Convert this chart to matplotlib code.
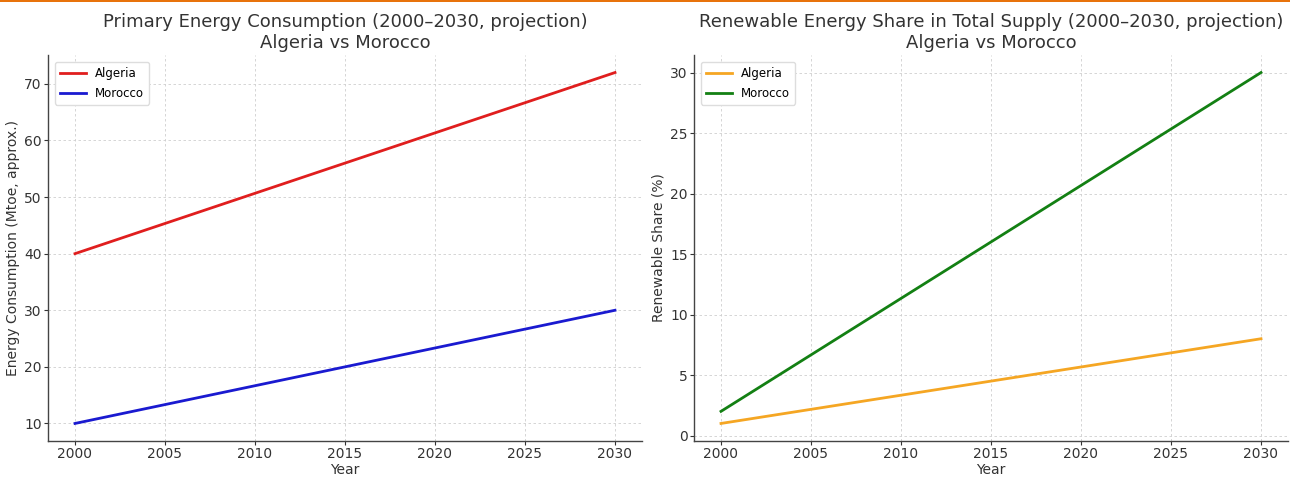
import matplotlib.pyplot as plt
from matplotlib.patches import Rectangle

# data
years = [2000, 2030]
algeria_energy = [40, 72]
morocco_energy = [10, 30]
algeria_renew = [1, 8]
morocco_renew = [2, 30]

plt.rcParams['font.family'] = 'DejaVu Sans'
text_col = '#333333'

fig = plt.figure(figsize=(12.9, 4.79), dpi=100)
W, H = 1290, 479

def add_axes_px(x0, y0, x1, y1):
    return fig.add_axes([x0 / W, 1 - y1 / H, (x1 - x0) / W, (y1 - y0) / H])

ax1 = add_axes_px(48, 55, 642, 441)
ax2 = add_axes_px(694, 55, 1288, 441)

def style(ax):
    ax.grid(True, linestyle=(0, (3, 3)), color='#cfcfcf', linewidth=0.6)
    ax.set_axisbelow(True)
    for s in ['top', 'right']:
        ax.spines[s].set_visible(False)
    for s in ['left', 'bottom']:
        ax.spines[s].set_color('#444444')
        ax.spines[s].set_linewidth(1.0)
    ax.tick_params(colors=text_col, labelsize=10, length=3, width=0.8, pad=1.5)
    ax.set_xticks(range(2000, 2031, 5))

def legend(ax):
    ax.legend(loc='upper left', fontsize=8.5, framealpha=1, edgecolor='#dddddd',
              labelspacing=0.6, handlelength=2.2, borderaxespad=0.6)

# left panel
ax1.plot(years, algeria_energy, color='#e01e1e', lw=2, label='Algeria')
ax1.plot(years, morocco_energy, color='#1a1ad0', lw=2, label='Morocco')
ax1.set_yticks(range(10, 71, 10))
style(ax1)
ax1.set_title('Primary Energy Consumption (2000–2030, projection)\nAlgeria vs Morocco',
              fontsize=13, color=text_col, pad=5)
ax1.set_xlabel('Year', fontsize=10, color=text_col, labelpad=1)
ax1.set_ylabel('Energy Consumption (Mtoe, approx.)', fontsize=10, color=text_col, labelpad=3)
legend(ax1)

# right panel
ax2.plot(years, algeria_renew, color='#f5a623', lw=2, label='Algeria')
ax2.plot(years, morocco_renew, color='#138013', lw=2, label='Morocco')
ax2.set_yticks(range(0, 31, 5))
style(ax2)
ax2.set_title('Renewable Energy Share in Total Supply (2000–2030, projection)\nAlgeria vs Morocco',
              fontsize=13, color=text_col, pad=5)
ax2.set_xlabel('Year', fontsize=10, color=text_col, labelpad=1)
ax2.set_ylabel('Renewable Share (%)', fontsize=10, color=text_col, labelpad=3)
legend(ax2)

# orange rule along the top edge
fig.add_artist(Rectangle((0, 1 - 2 / H), 1, 2 / H, transform=fig.transFigure,
                         color='#e8730c', lw=0))

fig.savefig('out.png', dpi=100)
